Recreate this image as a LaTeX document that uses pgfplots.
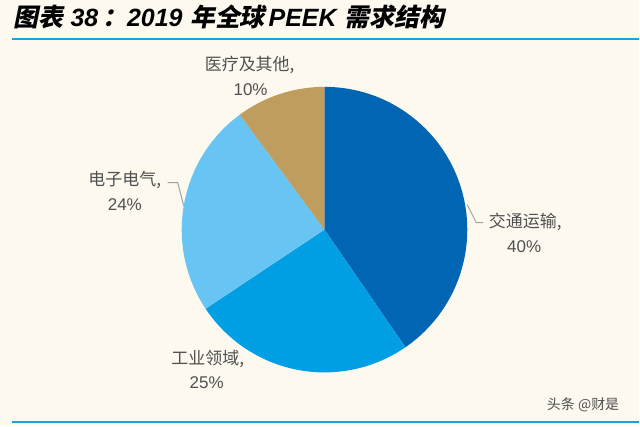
\documentclass[border=0pt]{standalone}
\usepackage{pgfplots}
\pgfplotsset{compat=1.18}
\usepackage{pgfplotstable}
\usepackage{fontspec}
\setmainfont{Liberation Sans}
\newfontfamily\cjk{Noto Sans CJK SC}
\newfontfamily\cjkti{Noto Sans CJK SC}[FakeSlant=0.2]
\definecolor{bgc}{RGB}{253,249,239}
\definecolor{cA}{RGB}{0,102,179}
\definecolor{cB}{RGB}{0,158,226}
\definecolor{cC}{RGB}{104,196,242}
\definecolor{cD}{RGB}{190,157,95}
\definecolor{lineblue}{RGB}{30,160,220}
\definecolor{txt}{RGB}{80,80,80}
\definecolor{lead}{RGB}{160,160,160}

\pgfplotstableread{
id val
0 40
1 25
2 24
3 10
}\piedata

\begin{document}
\begin{tikzpicture}
% compute slice angles from the table
\pgfplotstablegetrowsof{\piedata}
\pgfmathtruncatemacro\nrows{\pgfplotsretval-1}
\gdef\cum{0}
\foreach \i in {0,...,\nrows}{%
  \pgfplotstablegetelem{\i}{val}\of\piedata
  \pgfmathsetmacro\tmp{\cum+\pgfplotsretval}\xdef\cum{\tmp}}
\xdef\tot{\cum}
\gdef\cum{0}
\foreach \i in {0,...,\nrows}{%
  \pgfplotstablegetelem{\i}{val}\of\piedata
  \pgfmathsetmacro\sa{90-(\cum/\tot)*360}
  \pgfmathsetmacro\tmp{\cum+\pgfplotsretval}\xdef\cum{\tmp}
  \pgfmathsetmacro\ea{90-(\cum/\tot)*360}
  \expandafter\xdef\csname sA\i\endcsname{\sa}
  \expandafter\xdef\csname eA\i\endcsname{\ea}}
\begin{axis}[x=1pt,y=1pt,xmin=0,xmax=640,ymin=0,ymax=427,
  hide axis,clip=false,scale only axis]
\fill[bgc] (axis cs:0,0) rectangle (axis cs:640,427);
\foreach \i/\c in {0/cA,1/cB,2/cC,3/cD}{%
  \edef\temp{\noexpand\fill[\c] (axis cs:325,197) -- ++(\csname sA\i\endcsname:143pt)
    arc[start angle=\csname sA\i\endcsname, end angle=\csname eA\i\endcsname, radius=143pt] -- cycle;}%
  \temp}
% title
\node[anchor=west,inner sep=0pt] at (axis cs:13,410)
  {\fontsize{25}{29}\selectfont{\cjkti\bfseries 图表}\hspace{0.3em}{\bfseries\itshape 38}\hspace{0.15em}{\cjkti\bfseries ：}{\bfseries\itshape 2019}\hspace{0.3em}{\cjkti\bfseries 年全球}\hspace{0.15em}{\bfseries\itshape PEEK}\hspace{0.3em}{\cjkti\bfseries 需求结构}};
\draw[lineblue,line width=2pt] (axis cs:12,388) -- (axis cs:640,388);
\draw[lineblue,line width=2pt] (axis cs:12,4) -- (axis cs:640,4);
% labels
\begin{scope}[every node/.style={inner sep=0pt,text=txt,font=\fontsize{17}{20}\selectfont}]
\node at (axis cs:250,362) {\cjk 医疗及其他,};
\node at (axis cs:251,337) {10\%};
\node at (axis cs:125,247) {\cjk 电子电气,};
\node at (axis cs:125,222) {24\%};
\node at (axis cs:208,67) {\cjk 工业领域,};
\node at (axis cs:207,44) {25\%};
\node at (axis cs:526,205) {\cjk 交通运输,};
\node at (axis cs:525,180) {40\%};
\end{scope}
\draw[lead,line width=1pt] (axis cs:168,244) -- (axis cs:178,244) -- (axis cs:184,221);
\draw[lead,line width=1pt] (axis cs:484,204) -- (axis cs:477,204) -- (axis cs:468,222);
\node[text=txt,inner sep=0pt] at (axis cs:584,22) {\fontsize{14}{16}\selectfont\cjk 头条 @财是};
\end{axis}
\end{tikzpicture}
\end{document}
